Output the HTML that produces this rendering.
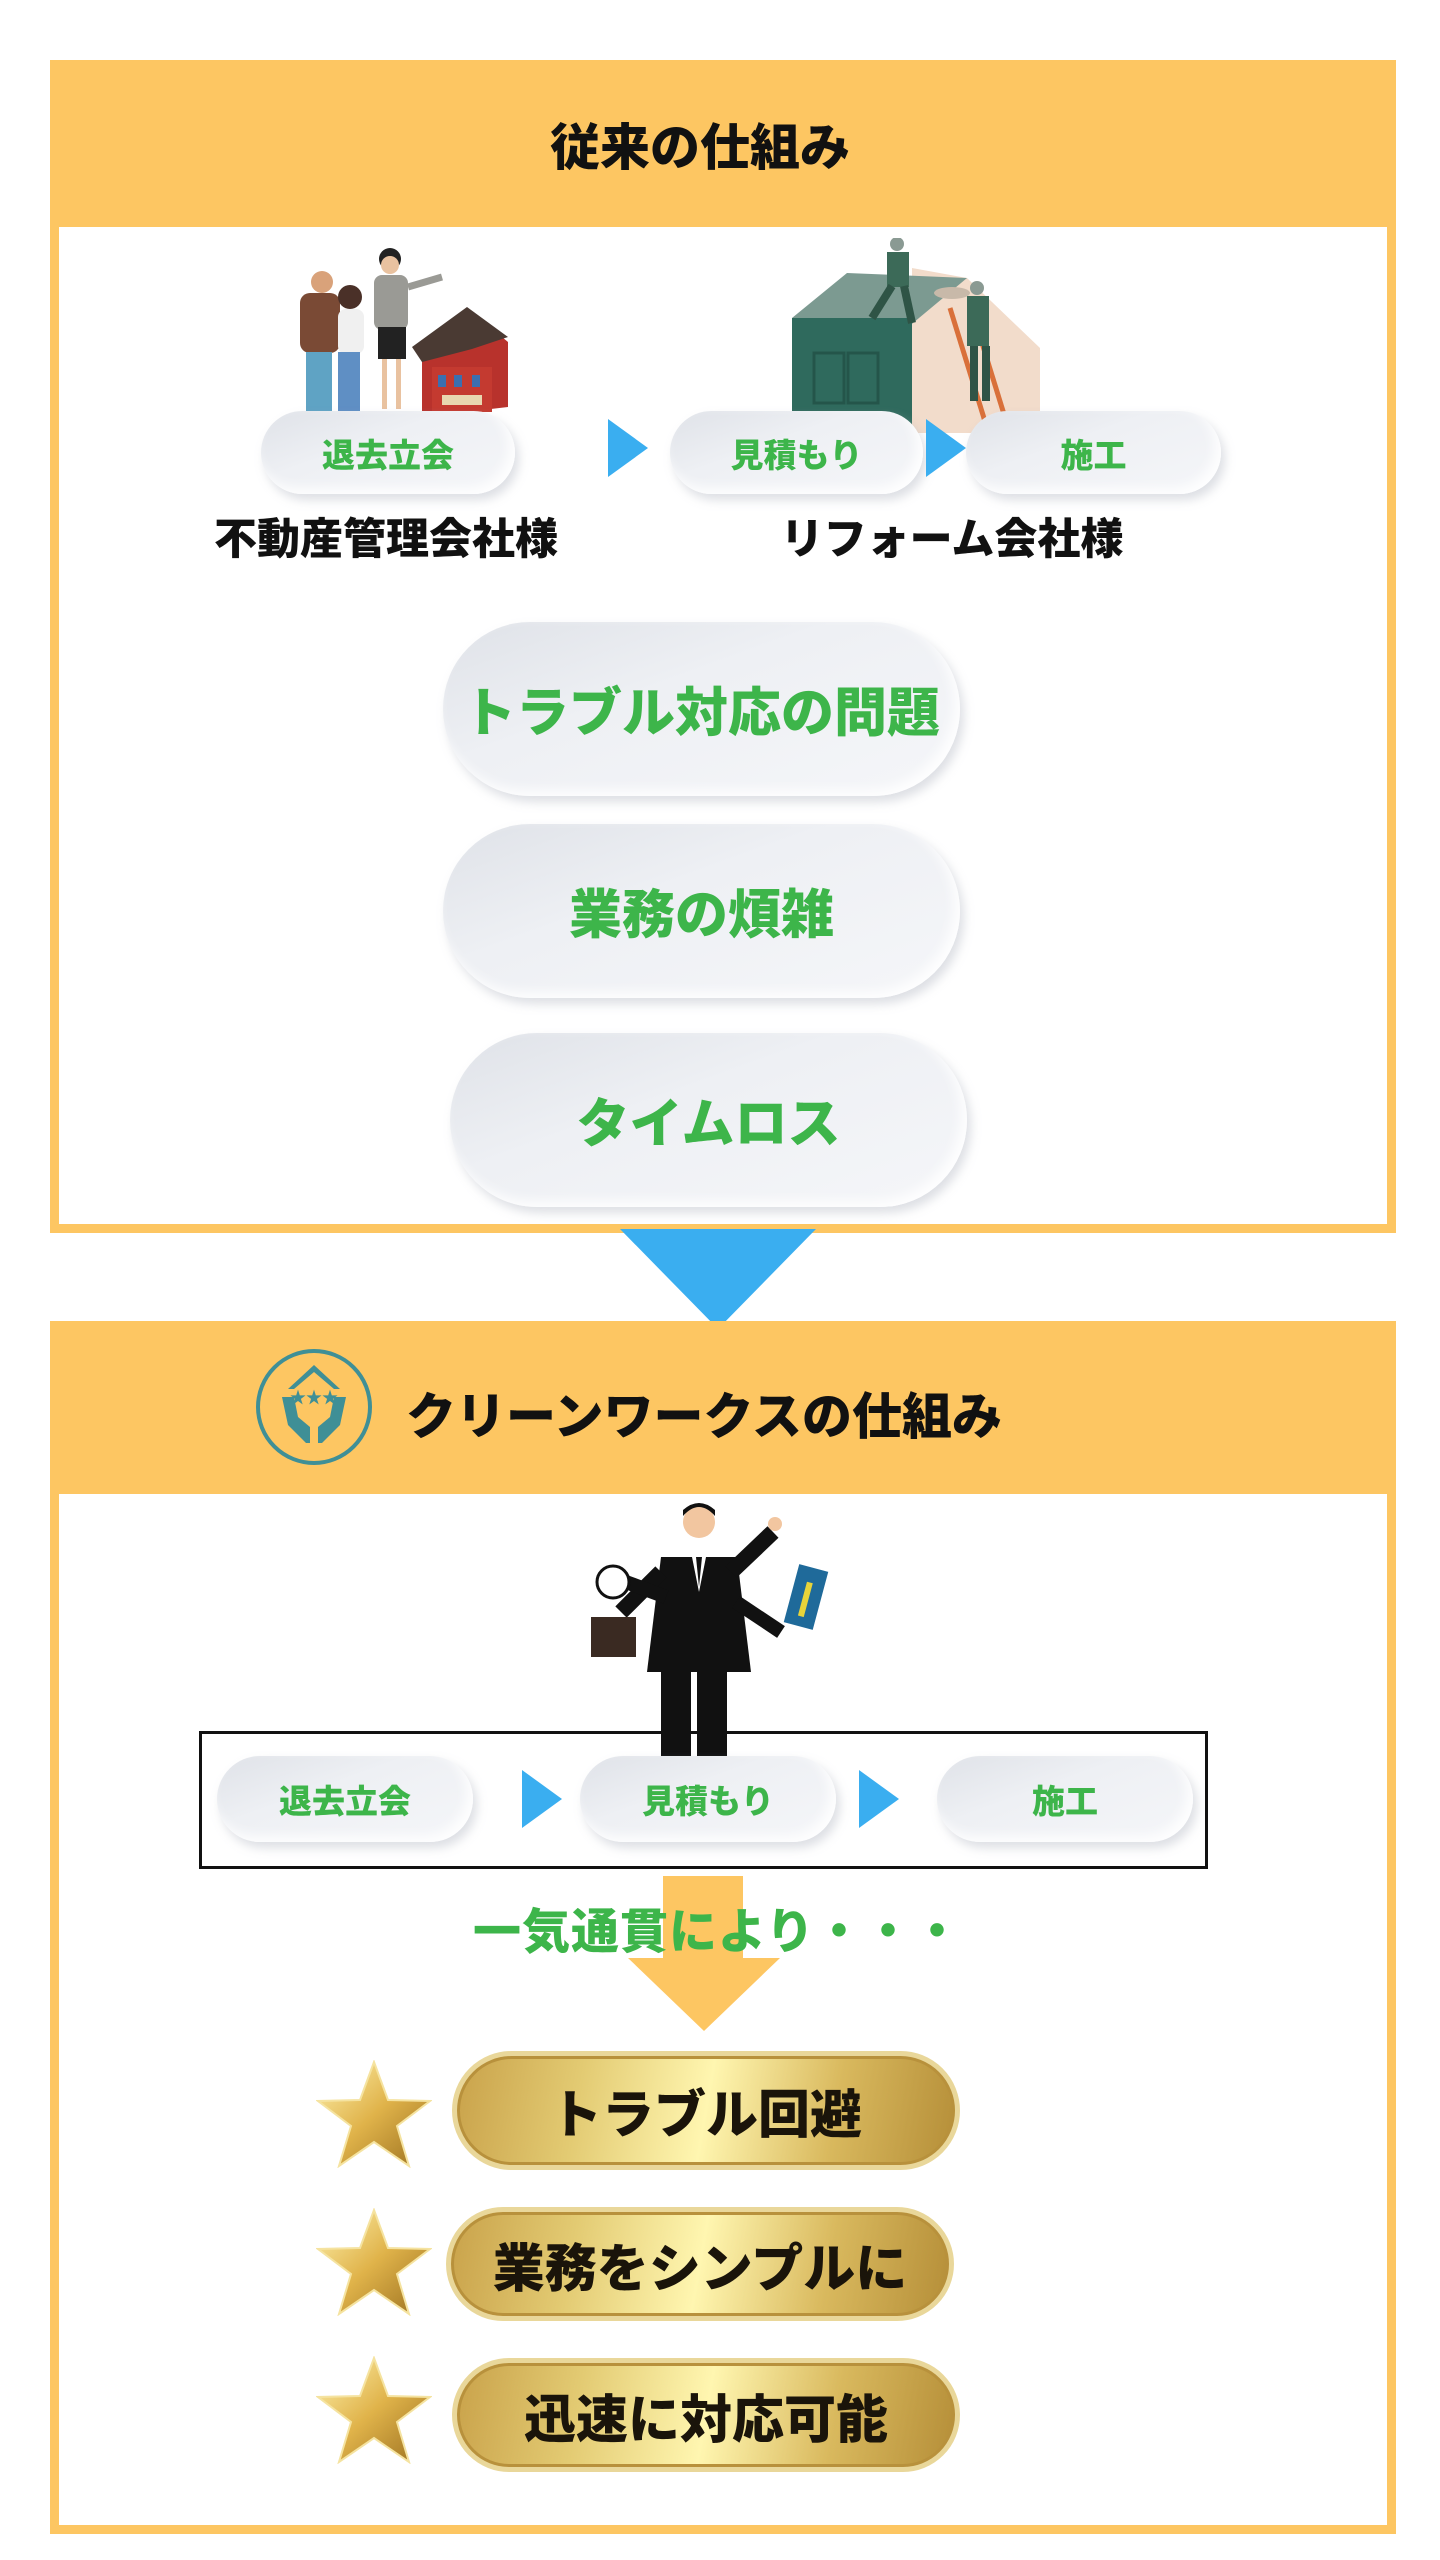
<!DOCTYPE html>
<html><head><meta charset="utf-8"><style>
*{margin:0;padding:0;box-sizing:border-box}
body{width:1440px;height:2560px;background:#fff;position:relative;overflow:hidden;font-family:"Liberation Sans","Noto Sans CJK JP",sans-serif;font-weight:900}
.a{position:absolute}
.box{position:absolute;border:9px solid #fdc662;background:#fff}
.hdr{position:absolute;background:#fdc662}
.pill{position:absolute;border-radius:999px;background:linear-gradient(160deg,#dfe2e8 0%,#eef0f4 40%,#f5f6f9 100%);box-shadow:4px 6px 10px rgba(180,185,195,.45), inset -6px -6px 12px rgba(255,255,255,.9);color:#3db54a;display:flex;align-items:center;justify-content:center;white-space:nowrap}
.tri{position:absolute;width:0;height:0;border-top:29px solid transparent;border-bottom:29px solid transparent;border-left:40px solid #3aaef0}
.gold{position:absolute;border-radius:999px;background:linear-gradient(100deg,#c9a24a 0%,#e3cb73 25%,#fff6b0 50%,#d9b95e 75%,#b58e38 100%);border:5px solid #e9d79a;box-shadow:inset 0 0 0 3px #b8913c;color:#1a140a;display:flex;align-items:center;justify-content:center;font-size:52px;white-space:nowrap}
.lbl{position:absolute;font-size:43px;color:#111;white-space:nowrap;text-align:center}
</style></head><body>

<div class="box" style="left:50px;top:60px;width:1346px;height:1173px"></div>
<div class="hdr" style="left:50px;top:60px;width:1346px;height:167px"></div>
<div class="a" style="left:500px;width:400px;top:108px;text-align:center;font-size:50px;color:#111">従来の仕組み</div>

<svg class="a" style="left:272px;top:237px" width="240" height="180" viewBox="0 0 240 180">
<polygon points="150,110 200,75 236,105 236,170 150,180" fill="#b8322c"/>
<polygon points="140,110 195,70 236,100 200,112 150,125" fill="#4a3a33"/>
<rect x="160" y="130" width="60" height="45" fill="#c43a30"/>
<rect x="166" y="138" width="8" height="12" fill="#3b6fb0"/><rect x="182" y="138" width="8" height="12" fill="#3b6fb0"/><rect x="200" y="138" width="8" height="12" fill="#3b6fb0"/>
<rect x="170" y="158" width="40" height="10" fill="#e8d7b0"/>
<circle cx="50" cy="45" r="11" fill="#d9a27a"/><rect x="28" y="56" width="40" height="60" rx="10" fill="#7a4a35"/>
<rect x="34" y="115" width="26" height="65" fill="#5fa3c4"/>
<circle cx="78" cy="60" r="12" fill="#4a3028"/><rect x="66" y="72" width="26" height="45" rx="8" fill="#f0f0f0"/><rect x="66" y="115" width="22" height="65" fill="#5f8fc4"/>
<circle cx="118" cy="22" r="11" fill="#222"/><circle cx="118" cy="28" r="9" fill="#e9c2a0"/>
<rect x="102" y="38" width="34" height="55" rx="8" fill="#9a9a95"/><rect x="106" y="90" width="28" height="32" fill="#222"/>
<rect x="110" y="122" width="5" height="50" fill="#e9c2a0"/><rect x="124" y="122" width="5" height="50" fill="#e9c2a0"/>
<line x1="136" y1="50" x2="170" y2="40" stroke="#9a9a95" stroke-width="7"/>
</svg>

<svg class="a" style="left:792px;top:238px" width="250" height="195" viewBox="0 0 250 195">
<polygon points="120,30 175,40 248,110 248,195 120,195" fill="#f2dccb"/>
<polygon points="0,80 55,35 175,40 115,90" fill="#7c9a91"/>
<rect x="0" y="80" width="120" height="108" fill="#2f6a5d"/>
<rect x="22" y="115" width="30" height="50" fill="none" stroke="#24554a" stroke-width="3"/><rect x="56" y="115" width="30" height="50" fill="none" stroke="#24554a" stroke-width="3"/>
<line x1="158" y1="70" x2="195" y2="190" stroke="#d9703a" stroke-width="5"/><line x1="178" y1="66" x2="215" y2="186" stroke="#d9703a" stroke-width="5"/>
<circle cx="105" cy="6" r="7" fill="#8a9a93"/><rect x="95" y="14" width="22" height="35" fill="#3c6a58"/><line x1="100" y1="48" x2="80" y2="80" stroke="#2f5446" stroke-width="8"/><line x1="112" y1="48" x2="120" y2="85" stroke="#2f5446" stroke-width="8"/>
<circle cx="185" cy="50" r="7" fill="#8a9a93"/><rect x="175" y="58" width="22" height="50" fill="#3c6a58"/><rect x="178" y="108" width="8" height="55" fill="#2f5446"/><rect x="190" y="108" width="8" height="55" fill="#2f5446"/>
<ellipse cx="160" cy="55" rx="18" ry="6" fill="#c8b9a9"/>
</svg>

<div class="pill" style="left:261px;top:411px;width:254px;height:83px;font-size:33px">退去立会</div>
<div class="tri" style="left:608px;top:419px"></div>
<div class="pill" style="left:670px;top:411px;width:253px;height:83px;font-size:33px">見積もり</div>
<div class="tri" style="left:926px;top:419px"></div>
<div class="pill" style="left:966px;top:411px;width:255px;height:83px;font-size:33px">施工</div>

<div class="lbl" style="left:200px;width:372px;top:505px">不動産管理会社様</div>
<div class="lbl" style="left:766px;width:372px;top:505px">リフォーム会社様</div>

<div class="pill" style="left:443px;top:622px;width:517px;height:174px;font-size:53px">トラブル対応の問題</div>
<div class="pill" style="left:443px;top:824px;width:517px;height:174px;font-size:53px">業務の煩雑</div>
<div class="pill" style="left:450px;top:1033px;width:517px;height:174px;font-size:53px">タイムロス</div>

<svg class="a" style="left:620px;top:1229px" width="196" height="100"><polygon points="0,0 196,0 98,100" fill="#3aaef0"/></svg>

<div class="box" style="left:50px;top:1321px;width:1346px;height:1213px"></div>
<div class="hdr" style="left:50px;top:1321px;width:1346px;height:173px"></div>
<svg class="a" style="left:254px;top:1347px" width="120" height="120" viewBox="0 0 120 120">
<circle cx="60" cy="60" r="56" fill="#fdc662" stroke="#3f8f96" stroke-width="4"/>
<polygon points="60,18 86,42 80,42 60,25 40,42 34,42" fill="#3f8f96"/>
<text x="60" y="56" text-anchor="middle" font-size="16" fill="#3f8f96">★★★</text>
<path d="M28,50 L34,78 L52,96 L56,96 L56,80 L44,70 L40,50 Z" fill="#3f8f96"/>
<path d="M92,50 L86,78 L68,96 L64,96 L64,80 L76,70 L80,50 Z" fill="#3f8f96"/>
</svg>
<div class="a" style="left:406px;top:1377px;font-size:50px;color:#111;white-space:nowrap">クリーンワークスの仕組み</div>

<svg class="a" style="left:591px;top:1502px" width="256" height="255" viewBox="0 0 256 255">
<circle cx="108" cy="20" r="16" fill="#f2c6a0"/><path d="M92,14 Q108,-4 124,14 L124,8 Q108,-6 92,8Z" fill="#111"/>
<path d="M70,55 L146,55 L160,170 L56,170 Z" fill="#111"/>
<polygon points="100,50 116,50 108,90" fill="#fff"/><polygon points="105,55 111,55 108,85" fill="#111"/>
<rect x="70" y="170" width="30" height="85" fill="#111"/><rect x="106" y="170" width="30" height="85" fill="#111"/>
<line x1="140" y1="70" x2="182" y2="30" stroke="#111" stroke-width="16"/><circle cx="184" cy="22" r="7" fill="#f2c6a0"/>
<line x1="70" y1="70" x2="30" y2="110" stroke="#111" stroke-width="16"/>
<line x1="145" y1="100" x2="190" y2="130" stroke="#111" stroke-width="14"/>
<line x1="75" y1="95" x2="35" y2="80" stroke="#111" stroke-width="14"/>
<circle cx="22" cy="80" r="16" fill="#fff" stroke="#111" stroke-width="3"/>
<rect x="0" y="115" width="45" height="40" fill="#3a2a22"/>
<rect x="200" y="65" width="30" height="60" fill="#1f6a9a" transform="rotate(15 215 95)"/><rect x="212" y="80" width="6" height="35" fill="#e8d43a" transform="rotate(15 215 95)"/>
</svg>

<div class="a" style="left:199px;top:1731px;width:1009px;height:138px;border:3px solid #111"></div>
<div class="pill" style="left:217px;top:1756px;width:256px;height:86px;font-size:33px">退去立会</div>
<div class="tri" style="left:522px;top:1770px"></div>
<div class="pill" style="left:580px;top:1756px;width:256px;height:86px;font-size:33px">見積もり</div>
<div class="tri" style="left:859px;top:1770px"></div>
<div class="pill" style="left:937px;top:1756px;width:256px;height:86px;font-size:33px">施工</div>

<svg class="a" style="left:628px;top:1876px" width="152" height="155"><rect x="35" y="0" width="80" height="82" fill="#fdc662"/><polygon points="0,82 152,82 76,155" fill="#fdc662"/></svg>
<div class="a" style="left:473px;top:1892px;font-size:48px;color:#3db54a;white-space:nowrap;letter-spacing:1px">一気通貫により・・・</div>

<svg class="a" style="left:316px;top:2060px" width="116" height="108" viewBox="0 0 116 108"><defs><linearGradient id="g" x1="0" y1="0" x2="1" y2="1"><stop offset="0" stop-color="#fff3b0"/><stop offset=".5" stop-color="#e0b34a"/><stop offset="1" stop-color="#9a6f1f"/></linearGradient></defs><polygon points="58,2 72,40 114,41 81,66 93,106 58,82 23,106 35,66 2,41 44,40" fill="url(#g)" stroke="#f5e3a0" stroke-width="2"/></svg>
<svg class="a" style="left:316px;top:2208px" width="116" height="108" viewBox="0 0 116 108"><polygon points="58,2 72,40 114,41 81,66 93,106 58,82 23,106 35,66 2,41 44,40" fill="url(#g)" stroke="#f5e3a0" stroke-width="2"/></svg>
<svg class="a" style="left:316px;top:2356px" width="116" height="108" viewBox="0 0 116 108"><polygon points="58,2 72,40 114,41 81,66 93,106 58,82 23,106 35,66 2,41 44,40" fill="url(#g)" stroke="#f5e3a0" stroke-width="2"/></svg>

<div class="gold" style="left:452px;top:2051px;width:508px;height:119px">トラブル回避</div>
<div class="gold" style="left:446px;top:2207px;width:508px;height:114px">業務をシンプルに</div>
<div class="gold" style="left:452px;top:2358px;width:508px;height:114px">迅速に対応可能</div>
</body></html>
